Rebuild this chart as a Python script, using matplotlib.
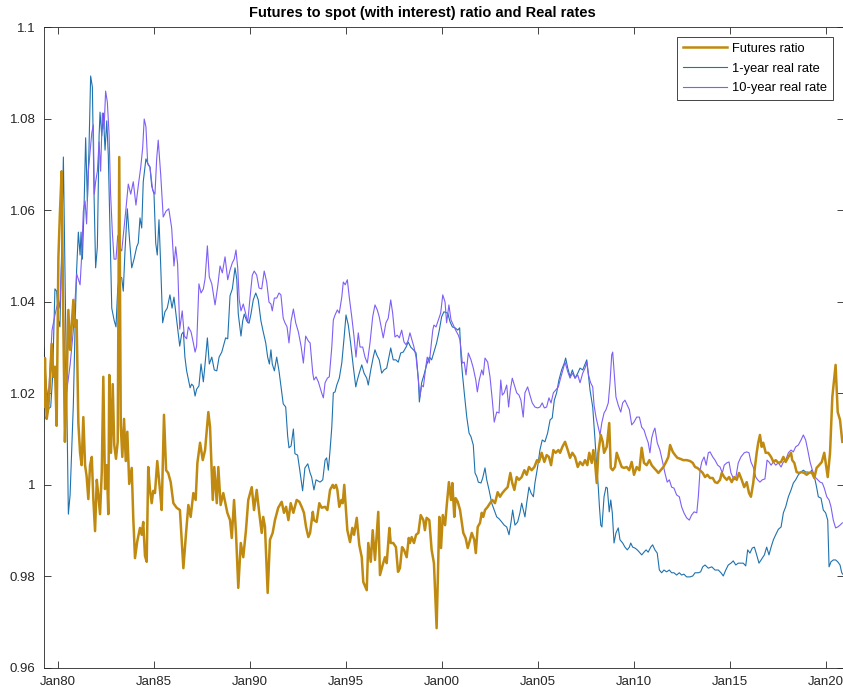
import matplotlib
matplotlib.use("Agg")
import matplotlib.pyplot as plt
from matplotlib.ticker import FixedLocator, FixedFormatter

plt.rcParams['font.family'] = ['Liberation Sans', 'DejaVu Sans']

# Futures-to-spot ratio (with interest), dates in decimal years
futures_t = [
    1979.27, 1979.32, 1979.41, 1979.49, 1979.58, 1979.67, 1979.76, 1979.84, 1979.93, 1980.02,
    1980.10, 1980.19, 1980.28, 1980.36, 1980.45, 1980.54, 1980.63, 1980.71, 1980.80, 1980.89,
    1980.97, 1981.06, 1981.15, 1981.23, 1981.32, 1981.41, 1981.49, 1981.58, 1981.67, 1981.76,
    1981.84, 1981.93, 1982.02, 1982.10, 1982.19, 1982.28, 1982.36, 1982.45, 1982.54, 1982.62,
    1982.67, 1982.76, 1982.85, 1982.93, 1983.02, 1983.11, 1983.19, 1983.27, 1983.35, 1983.44,
    1983.53, 1983.61, 1983.71, 1983.84, 1983.92, 1984.01, 1984.13, 1984.27, 1984.36, 1984.44,
    1984.53, 1984.62, 1984.70, 1984.79, 1984.88, 1984.96, 1985.05, 1985.17, 1985.31, 1985.40,
    1985.52, 1985.63, 1985.74, 1985.87, 1986.01, 1986.18, 1986.35, 1986.53, 1986.67, 1986.79,
    1986.91, 1987.05, 1987.17, 1987.26, 1987.40, 1987.54, 1987.66, 1987.83, 1987.92, 1988.06,
    1988.14, 1988.27, 1988.35, 1988.47, 1988.61, 1988.82, 1988.96, 1989.05, 1989.17, 1989.27,
    1989.39, 1989.52, 1989.65, 1989.79, 1989.91, 1990.09, 1990.21, 1990.35, 1990.48, 1990.61,
    1990.69, 1990.78, 1990.92, 1991.04, 1991.18, 1991.30, 1991.47, 1991.65, 1991.77, 1991.88,
    1992.00, 1992.12, 1992.26, 1992.43, 1992.57, 1992.69, 1992.81, 1992.92, 1993.04, 1993.13,
    1993.27, 1993.33, 1993.47, 1993.61, 1993.73, 1993.91, 1994.03, 1994.17, 1994.31, 1994.38,
    1994.48, 1994.55, 1994.65, 1994.76, 1994.83, 1994.91, 1995.07, 1995.21, 1995.33, 1995.42,
    1995.56, 1995.69, 1995.82, 1995.90, 1996.08, 1996.16, 1996.29, 1996.39, 1996.51, 1996.68,
    1996.77, 1996.91, 1997.03, 1997.12, 1997.26, 1997.33, 1997.46, 1997.60, 1997.71, 1997.81,
    1997.92, 1998.02, 1998.16, 1998.27, 1998.33, 1998.42, 1998.54, 1998.65, 1998.77, 1998.89,
    1999.03, 1999.11, 1999.20, 1999.34, 1999.46, 1999.58, 1999.72, 1999.86, 1999.95, 2000.04,
    2000.16, 2000.24, 2000.36, 2000.47, 2000.54, 2000.64, 2000.71, 2000.82, 2000.94, 2001.11,
    2001.23, 2001.34, 2001.46, 2001.55, 2001.68, 2001.76, 2001.86, 2001.98, 2002.07, 2002.15,
    2002.24, 2002.38, 2002.50, 2002.62, 2002.76, 2002.90, 2003.02, 2003.14, 2003.28, 2003.42,
    2003.56, 2003.66, 2003.77, 2003.89, 2004.01, 2004.15, 2004.29, 2004.41, 2004.53, 2004.67,
    2004.81, 2004.95, 2005.05, 2005.19, 2005.33, 2005.45, 2005.57, 2005.68, 2005.80, 2005.92,
    2006.06, 2006.15, 2006.27, 2006.41, 2006.55, 2006.67, 2006.79, 2006.93, 2007.07, 2007.19,
    2007.33, 2007.45, 2007.57, 2007.67, 2007.80, 2007.88, 2007.97, 2008.06, 2008.14, 2008.27,
    2008.37, 2008.44, 2008.58, 2008.71, 2008.79, 2008.89, 2009.01, 2009.10, 2009.23, 2009.36,
    2009.48, 2009.62, 2009.75, 2009.88, 2010.00, 2010.14, 2010.28, 2010.40, 2010.52, 2010.66,
    2010.80, 2010.92, 2011.04, 2011.15, 2011.27, 2011.39, 2011.53, 2011.67, 2011.79, 2011.88,
    2012.02, 2012.14, 2012.26, 2012.40, 2012.57, 2012.75, 2012.92, 2013.06, 2013.18, 2013.30,
    2013.44, 2013.58, 2013.70, 2013.82, 2013.96, 2014.10, 2014.22, 2014.34, 2014.48, 2014.57,
    2014.70, 2014.83, 2014.95, 2015.09, 2015.22, 2015.35, 2015.47, 2015.61, 2015.74, 2015.87,
    2015.99, 2016.09, 2016.21, 2016.30, 2016.39, 2016.47, 2016.56, 2016.65, 2016.73, 2016.86,
    2016.99, 2017.14, 2017.26, 2017.38, 2017.52, 2017.66, 2017.78, 2017.90, 2018.04, 2018.18,
    2018.24, 2018.35, 2018.47, 2018.59, 2018.73, 2018.87, 2018.99, 2019.11, 2019.25, 2019.39,
    2019.51, 2019.64, 2019.78, 2019.91, 2019.98, 2020.09, 2020.21, 2020.33, 2020.43, 2020.50,
    2020.61, 2020.73, 2020.85,
]
futures_v = [
    1.0170, 1.0277, 1.0144, 1.0166, 1.0220, 1.0308, 1.0236, 1.0258, 1.0129, 1.0496,
    1.0594, 1.0685, 1.0345, 1.0094, 1.0220, 1.0382, 1.0295, 1.0345, 1.0404, 1.0345,
    1.0360, 1.0135, 1.0070, 1.0043, 1.0148, 1.0043, 1.0019, 0.9969, 1.0043, 1.0061,
    0.9969, 0.9899, 1.0011, 0.9978, 0.9936, 1.0028, 1.0236, 0.9991, 1.0043, 0.9936,
    1.0240, 1.0070, 1.0220, 1.0087, 1.0057, 1.0094, 1.0716, 1.0129, 1.0061, 1.0144,
    1.0052, 1.0116, 1.0002, 1.0037, 0.9928, 0.9840, 0.9877, 0.9906, 0.9891, 0.9919,
    0.9845, 0.9832, 1.0039, 0.9989, 0.9960, 0.9987, 0.9982, 1.0052, 0.9989, 0.9945,
    1.0153, 1.0032, 1.0026, 1.0006, 0.9960, 0.9950, 0.9945, 0.9818, 0.9895, 0.9956,
    0.9930, 0.9982, 0.9967, 1.0048, 1.0092, 1.0054, 1.0076, 1.0159, 1.0126, 0.9967,
    1.0039, 0.9960, 1.0039, 0.9956, 0.9982, 0.9939, 0.9923, 0.9884, 0.9967, 0.9895,
    0.9775, 0.9873, 0.9842, 0.9901, 0.9967, 0.9995, 0.9945, 0.9989, 0.9939, 0.9895,
    0.9930, 0.9908, 0.9764, 0.9880, 0.9895, 0.9923, 0.9950, 0.9963, 0.9939, 0.9952,
    0.9923, 0.9960, 0.9939, 0.9967, 0.9963, 0.9952, 0.9939, 0.9908, 0.9886, 0.9895,
    0.9941, 0.9923, 0.9919, 0.9960, 0.9950, 0.9952, 0.9945, 0.9989, 1.0000, 0.9993,
    1.0000, 0.9989, 0.9952, 0.9967, 0.9960, 1.0000, 0.9901, 0.9875, 0.9906, 0.9891,
    0.9928, 0.9869, 0.9842, 0.9788, 0.9770, 0.9873, 0.9832, 0.9901, 0.9836, 0.9941,
    0.9803, 0.9825, 0.9842, 0.9829, 0.9906, 0.9873, 0.9873, 0.9864, 0.9810, 0.9818,
    0.9864, 0.9858, 0.9842, 0.9884, 0.9873, 0.9886, 0.9873, 0.9891, 0.9895, 0.9934,
    0.9923, 0.9901, 0.9928, 0.9923, 0.9858, 0.9829, 0.9687, 0.9930, 0.9862, 0.9934,
    0.9912, 0.9952, 1.0006, 0.9967, 1.0004, 0.9930, 0.9971, 0.9963, 0.9945, 0.9895,
    0.9884, 0.9862, 0.9880, 0.9895, 0.9880, 0.9851, 0.9908, 0.9917, 0.9939, 0.9930,
    0.9945, 0.9952, 0.9960, 0.9967, 0.9960, 0.9984, 0.9974, 0.9982, 0.9989, 0.9995,
    1.0026, 1.0004, 0.9989, 1.0017, 1.0011, 1.0017, 1.0032, 1.0022, 1.0039, 1.0032,
    1.0039, 1.0054, 1.0050, 1.0070, 1.0050, 1.0065, 1.0061, 1.0043, 1.0076, 1.0070,
    1.0076, 1.0070, 1.0083, 1.0094, 1.0076, 1.0059, 1.0070, 1.0061, 1.0039, 1.0050,
    1.0043, 1.0054, 1.0043, 1.0070, 1.0048, 1.0076, 1.0050, 1.0004, 1.0070, 1.0109,
    1.0094, 1.0070, 1.0083, 1.0135, 1.0037, 1.0032, 1.0039, 1.0070, 1.0054, 1.0039,
    1.0037, 1.0039, 1.0032, 1.0050, 1.0022, 1.0039, 1.0032, 1.0081, 1.0048, 1.0043,
    1.0054, 1.0043, 1.0037, 1.0032, 1.0026, 1.0032, 1.0039, 1.0050, 1.0061, 1.0087,
    1.0072, 1.0065, 1.0059, 1.0057, 1.0054, 1.0054, 1.0052, 1.0048, 1.0039, 1.0037,
    1.0032, 1.0026, 1.0017, 1.0022, 1.0015, 1.0015, 1.0006, 1.0004, 1.0011, 1.0026,
    1.0017, 1.0011, 1.0017, 1.0006, 1.0017, 1.0011, 1.0026, 1.0011, 0.9995, 1.0006,
    0.9982, 0.9974, 1.0004, 1.0039, 1.0070, 1.0092, 1.0109, 1.0083, 1.0092, 1.0070,
    1.0070, 1.0061, 1.0050, 1.0054, 1.0048, 1.0050, 1.0061, 1.0050, 1.0061, 1.0070,
    1.0054, 1.0048, 1.0028, 1.0026, 1.0028, 1.0026, 1.0022, 1.0026, 1.0028, 1.0015,
    1.0037, 1.0043, 1.0050, 1.0070, 1.0050, 1.0017, 1.0070, 1.0192, 1.0233, 1.0262,
    1.0159, 1.0142, 1.0094,
]

# 1-year real rate (scaled)
rate1_t = [
    1979.27, 1979.38, 1979.49, 1979.62, 1979.72, 1979.84, 1979.93, 1980.02, 1980.10, 1980.19,
    1980.28, 1980.54, 1980.63, 1980.80, 1980.89, 1980.97, 1981.06, 1981.15, 1981.20, 1981.27,
    1981.35, 1981.44, 1981.53, 1981.61, 1981.70, 1981.79, 1981.88, 1981.96, 1982.05, 1982.14,
    1982.19, 1982.28, 1982.36, 1982.45, 1982.54, 1982.62, 1982.71, 1982.80, 1982.92, 1983.02,
    1983.11, 1983.19, 1983.32, 1983.40, 1983.49, 1983.61, 1983.71, 1983.84, 1983.96, 1984.10,
    1984.18, 1984.27, 1984.36, 1984.44, 1984.58, 1984.70, 1984.79, 1984.88, 1985.00, 1985.09,
    1985.17, 1985.26, 1985.35, 1985.45, 1985.57, 1985.69, 1985.83, 1985.94, 1986.04, 1986.18,
    1986.34, 1986.44, 1986.53, 1986.61, 1986.70, 1986.79, 1986.88, 1986.96, 1987.05, 1987.14,
    1987.22, 1987.34, 1987.45, 1987.57, 1987.66, 1987.78, 1987.88, 1988.01, 1988.14, 1988.27,
    1988.39, 1988.53, 1988.73, 1988.84, 1988.96, 1989.08, 1989.22, 1989.31, 1989.39, 1989.53,
    1989.62, 1989.70, 1989.83, 1989.95, 1990.05, 1990.17, 1990.30, 1990.43, 1990.57, 1990.69,
    1990.82, 1990.92, 1991.01, 1991.09, 1991.16, 1991.27, 1991.39, 1991.51, 1991.61, 1991.73,
    1991.86, 1991.96, 1992.03, 1992.14, 1992.26, 1992.34, 1992.48, 1992.60, 1992.74, 1992.86,
    1993.01, 1993.13, 1993.21, 1993.33, 1993.44, 1993.65, 1993.79, 1993.91, 1993.99, 1994.08,
    1994.17, 1994.26, 1994.34, 1994.43, 1994.52, 1994.65, 1994.78, 1994.90, 1995.00, 1995.12,
    1995.24, 1995.38, 1995.51, 1995.59, 1995.69, 1995.82, 1995.94, 1996.08, 1996.16, 1996.29,
    1996.42, 1996.51, 1996.60, 1996.73, 1996.86, 1996.98, 1997.12, 1997.33, 1997.46, 1997.60,
    1997.72, 1997.85, 1997.98, 1998.13, 1998.24, 1998.37, 1998.51, 1998.65, 1998.77, 1998.82,
    1998.94, 1999.06, 1999.20, 1999.34, 1999.46, 1999.58, 1999.72, 1999.86, 1999.98, 2000.10,
    2000.30, 2000.42, 2000.54, 2000.68, 2000.82, 2000.92, 2000.99, 2001.06, 2001.16, 2001.29,
    2001.41, 2001.51, 2001.63, 2001.72, 2001.82, 2001.89, 2002.03, 2002.12, 2002.24, 2002.33,
    2002.45, 2002.59, 2002.72, 2002.85, 2002.97, 2003.11, 2003.24, 2003.37, 2003.49, 2003.59,
    2003.68, 2003.80, 2003.94, 2004.06, 2004.15, 2004.32, 2004.41, 2004.53, 2004.64, 2004.76,
    2004.84, 2004.98, 2005.10, 2005.22, 2005.36, 2005.50, 2005.63, 2005.74, 2005.85, 2005.97,
    2006.09, 2006.23, 2006.37, 2006.44, 2006.55, 2006.67, 2006.79, 2006.93, 2007.07, 2007.19,
    2007.33, 2007.54, 2007.71, 2007.85, 2007.97, 2008.06, 2008.14, 2008.20, 2008.27, 2008.33,
    2008.44, 2008.54, 2008.61, 2008.71, 2008.79, 2008.87, 2008.96, 2009.06, 2009.18, 2009.27,
    2009.41, 2009.53, 2009.65, 2009.76, 2009.83, 2009.93, 2010.05, 2010.17, 2010.28, 2010.40,
    2010.52, 2010.63, 2010.74, 2010.87, 2010.97, 2011.09, 2011.21, 2011.32, 2011.44, 2011.56,
    2011.70, 2011.84, 2011.96, 2012.08, 2012.22, 2012.36, 2012.48, 2012.60, 2012.74, 2012.92,
    2013.06, 2013.18, 2013.35, 2013.47, 2013.58, 2013.70, 2013.87, 2014.05, 2014.22, 2014.39,
    2014.53, 2014.65, 2014.78, 2014.91, 2015.05, 2015.17, 2015.30, 2015.43, 2015.57, 2015.69,
    2015.82, 2015.92, 2016.04, 2016.16, 2016.27, 2016.39, 2016.51, 2016.65, 2016.79, 2016.91,
    2017.03, 2017.14, 2017.26, 2017.38, 2017.52, 2017.66, 2017.78, 2017.90, 2018.04, 2018.18,
    2018.30, 2018.42, 2018.56, 2018.70, 2018.82, 2018.94, 2019.05, 2019.17, 2019.25, 2019.43,
    2019.51, 2019.60, 2019.74, 2019.86, 2019.98, 2020.09, 2020.16, 2020.26, 2020.38, 2020.50,
    2020.61, 2020.73, 2020.82, 2020.87,
]
rate1_v = [
    1.0299, 1.0220, 1.0166, 1.0170, 1.0236, 1.0428, 1.0423, 1.0360, 1.0345, 1.0511,
    1.0716, 0.9936, 0.9978, 1.0177, 1.0345, 1.0469, 1.0552, 1.0502, 1.0552, 1.0493,
    1.0594, 1.0758, 1.0620, 1.0727, 1.0893, 1.0869, 1.0629, 1.0474, 1.0520, 1.0762,
    1.0814, 1.0762, 1.0812, 1.0731, 1.0795, 1.0720, 1.0552, 1.0386, 1.0360, 1.0345,
    1.0428, 1.0456, 1.0452, 1.0423, 1.0511, 1.0603, 1.0544, 1.0474, 1.0493, 1.0520,
    1.0528, 1.0583, 1.0561, 1.0662, 1.0712, 1.0699, 1.0694, 1.0653, 1.0635, 1.0528,
    1.0502, 1.0579, 1.0478, 1.0354, 1.0378, 1.0386, 1.0415, 1.0386, 1.0410, 1.0360,
    1.0303, 1.0329, 1.0334, 1.0279, 1.0249, 1.0231, 1.0212, 1.0220, 1.0216, 1.0194,
    1.0209, 1.0216, 1.0264, 1.0225, 1.0264, 1.0321, 1.0264, 1.0279, 1.0251, 1.0249,
    1.0279, 1.0290, 1.0321, 1.0319, 1.0413, 1.0428, 1.0474, 1.0450, 1.0373, 1.0325,
    1.0358, 1.0373, 1.0358, 1.0353, 1.0373, 1.0404, 1.0419, 1.0404, 1.0358, 1.0334,
    1.0310, 1.0279, 1.0264, 1.0295, 1.0264, 1.0249, 1.0279, 1.0249, 1.0216, 1.0177,
    1.0170, 1.0107, 1.0081, 1.0085, 1.0122, 1.0068, 1.0065, 1.0030, 0.9987, 1.0037,
    1.0046, 1.0026, 1.0017, 0.9989, 1.0011, 1.0006, 1.0011, 1.0054, 1.0059, 1.0032,
    1.0076, 1.0126, 1.0201, 1.0203, 1.0218, 1.0233, 1.0266, 1.0321, 1.0371, 1.0349,
    1.0310, 1.0258, 1.0214, 1.0229, 1.0244, 1.0262, 1.0244, 1.0233, 1.0218, 1.0251,
    1.0279, 1.0295, 1.0284, 1.0273, 1.0244, 1.0251, 1.0255, 1.0299, 1.0273, 1.0273,
    1.0268, 1.0288, 1.0290, 1.0301, 1.0312, 1.0301, 1.0295, 1.0288, 1.0229, 1.0181,
    1.0223, 1.0240, 1.0262, 1.0279, 1.0273, 1.0290, 1.0310, 1.0338, 1.0367, 1.0378,
    1.0375, 1.0356, 1.0345, 1.0343, 1.0338, 1.0343, 1.0279, 1.0244, 1.0201, 1.0148,
    1.0113, 1.0105, 1.0087, 1.0026, 1.0017, 1.0006, 1.0004, 1.0015, 1.0037, 1.0011,
    0.9989, 0.9960, 0.9945, 0.9930, 0.9926, 0.9919, 0.9912, 0.9908, 0.9891, 0.9917,
    0.9945, 0.9912, 0.9919, 0.9939, 0.9960, 0.9930, 0.9960, 0.9995, 0.9982, 0.9974,
    1.0004, 1.0039, 1.0076, 1.0098, 1.0094, 1.0113, 1.0142, 1.0146, 1.0185, 1.0201,
    1.0229, 1.0251, 1.0266, 1.0277, 1.0255, 1.0236, 1.0251, 1.0233, 1.0244, 1.0255,
    1.0251, 1.0273, 1.0207, 1.0170, 1.0098, 1.0039, 0.9995, 0.9952, 0.9912, 0.9908,
    0.9974, 0.9995, 0.9993, 0.9941, 0.9967, 0.9939, 0.9873, 0.9895, 0.9906, 0.9880,
    0.9873, 0.9864, 0.9858, 0.9864, 0.9873, 0.9864, 0.9862, 0.9858, 0.9853, 0.9847,
    0.9853, 0.9858, 0.9853, 0.9864, 0.9869, 0.9858, 0.9851, 0.9814, 0.9808, 0.9814,
    0.9810, 0.9814, 0.9808, 0.9808, 0.9803, 0.9808, 0.9803, 0.9805, 0.9799, 0.9799,
    0.9801, 0.9808, 0.9808, 0.9810, 0.9821, 0.9825, 0.9818, 0.9821, 0.9814, 0.9814,
    0.9808, 0.9801, 0.9814, 0.9825, 0.9829, 0.9834, 0.9825, 0.9829, 0.9829, 0.9829,
    0.9823, 0.9858, 0.9851, 0.9862, 0.9864, 0.9847, 0.9829, 0.9838, 0.9847, 0.9864,
    0.9847, 0.9864, 0.9880, 0.9891, 0.9903, 0.9908, 0.9939, 0.9952, 0.9974, 0.9989,
    1.0004, 1.0011, 1.0022, 1.0028, 1.0032, 1.0028, 1.0028, 1.0026, 1.0032, 1.0011,
    0.9995, 0.9974, 0.9971, 0.9945, 0.9939, 0.9923, 0.9821, 0.9832, 0.9836, 0.9836,
    0.9832, 0.9825, 0.9808, 0.9805,
]

# 10-year real rate (scaled)
rate10_t = [
    1979.27, 1979.49, 1979.69, 1979.84, 1980.02, 1980.10, 1980.21, 1980.31, 1980.45, 1980.63,
    1980.80, 1980.97, 1981.15, 1981.23, 1981.32, 1981.41, 1981.49, 1981.58, 1981.67, 1981.76,
    1981.84, 1981.89, 1981.96, 1982.05, 1982.14, 1982.22, 1982.31, 1982.40, 1982.48, 1982.57,
    1982.66, 1982.74, 1982.83, 1982.92, 1983.02, 1983.11, 1983.19, 1983.32, 1983.40, 1983.54,
    1983.66, 1983.79, 1983.92, 1984.06, 1984.18, 1984.31, 1984.41, 1984.49, 1984.58, 1984.67,
    1984.79, 1984.93, 1985.05, 1985.14, 1985.22, 1985.35, 1985.48, 1985.63, 1985.77, 1985.92,
    1986.04, 1986.13, 1986.23, 1986.34, 1986.47, 1986.58, 1986.70, 1986.79, 1986.93, 1987.05,
    1987.14, 1987.22, 1987.34, 1987.45, 1987.57, 1987.66, 1987.78, 1987.88, 1988.01, 1988.18,
    1988.32, 1988.44, 1988.56, 1988.70, 1988.84, 1988.96, 1989.08, 1989.18, 1989.27, 1989.36,
    1989.44, 1989.53, 1989.65, 1989.78, 1989.88, 1990.00, 1990.12, 1990.22, 1990.35, 1990.47,
    1990.61, 1990.74, 1990.87, 1990.99, 1991.09, 1991.16, 1991.27, 1991.39, 1991.51, 1991.61,
    1991.73, 1991.82, 1991.93, 1992.03, 1992.14, 1992.26, 1992.38, 1992.52, 1992.66, 1992.78,
    1992.90, 1993.04, 1993.13, 1993.27, 1993.33, 1993.44, 1993.56, 1993.73, 1993.82, 1993.91,
    1994.03, 1994.13, 1994.26, 1994.34, 1994.43, 1994.55, 1994.65, 1994.78, 1994.86, 1994.96,
    1995.07, 1995.17, 1995.30, 1995.42, 1995.52, 1995.64, 1995.73, 1995.87, 1995.99, 1996.11,
    1996.25, 1996.39, 1996.51, 1996.63, 1996.73, 1996.94, 1997.08, 1997.20, 1997.33, 1997.43,
    1997.55, 1997.67, 1997.78, 1997.90, 1998.02, 1998.13, 1998.24, 1998.33, 1998.54, 1998.65,
    1998.77, 1998.85, 1998.94, 1999.03, 1999.17, 1999.23, 1999.34, 1999.41, 1999.52, 1999.58,
    1999.69, 1999.81, 1999.93, 2000.04, 2000.16, 2000.24, 2000.36, 2000.47, 2000.71, 2000.85,
    2000.94, 2001.06, 2001.16, 2001.25, 2001.37, 2001.51, 2001.63, 2001.76, 2001.84, 2001.94,
    2002.07, 2002.15, 2002.24, 2002.38, 2002.50, 2002.62, 2002.72, 2002.85, 2002.97, 2003.06,
    2003.14, 2003.24, 2003.37, 2003.47, 2003.56, 2003.66, 2003.77, 2003.89, 2004.01, 2004.11,
    2004.23, 2004.32, 2004.46, 2004.58, 2004.70, 2004.84, 2004.98, 2005.10, 2005.22, 2005.33,
    2005.45, 2005.57, 2005.68, 2005.80, 2006.06, 2006.15, 2006.27, 2006.41, 2006.55, 2006.67,
    2006.79, 2006.93, 2007.07, 2007.19, 2007.33, 2007.45, 2007.54, 2007.63, 2007.74, 2007.85,
    2007.92, 2008.02, 2008.14, 2008.23, 2008.32, 2008.44, 2008.54, 2008.66, 2008.75, 2008.84,
    2008.89, 2008.97, 2009.06, 2009.18, 2009.31, 2009.41, 2009.53, 2009.65, 2009.76, 2009.88,
    2010.00, 2010.14, 2010.28, 2010.40, 2010.52, 2010.63, 2010.74, 2010.83, 2010.92, 2011.01,
    2011.09, 2011.21, 2011.35, 2011.49, 2011.61, 2011.73, 2011.84, 2011.96, 2012.08, 2012.22,
    2012.36, 2012.48, 2012.60, 2012.74, 2012.88, 2013.00, 2013.13, 2013.27, 2013.35, 2013.44,
    2013.53, 2013.65, 2013.76, 2013.87, 2013.96, 2014.10, 2014.22, 2014.36, 2014.48, 2014.60,
    2014.70, 2014.83, 2014.95, 2015.05, 2015.21, 2015.30, 2015.43, 2015.57, 2015.74, 2015.87,
    2015.99, 2016.09, 2016.21, 2016.34, 2016.44, 2016.56, 2016.68, 2016.82, 2016.93, 2017.03,
    2017.14, 2017.26, 2017.38, 2017.52, 2017.66, 2017.78, 2017.90, 2018.04, 2018.18, 2018.30,
    2018.42, 2018.56, 2018.70, 2018.82, 2018.94, 2019.05, 2019.17, 2019.29, 2019.43, 2019.57,
    2019.69, 2019.81, 2019.91, 2020.04, 2020.16, 2020.26, 2020.38, 2020.50, 2020.61, 2020.73,
    2020.85,
]
rate10_v = [
    1.0251, 1.0185, 1.0338, 1.0371, 1.0404, 1.0386, 1.0513, 1.0338, 1.0203, 1.0262,
    1.0338, 1.0461, 1.0437, 1.0498, 1.0598, 1.0620, 1.0570, 1.0685, 1.0727, 1.0769,
    1.0786, 1.0635, 1.0662, 1.0685, 1.0749, 1.0685, 1.0812, 1.0777, 1.0860, 1.0836,
    1.0766, 1.0635, 1.0552, 1.0493, 1.0493, 1.0544, 1.0520, 1.0511, 1.0544, 1.0603,
    1.0657, 1.0635, 1.0662, 1.0611, 1.0653, 1.0694, 1.0736, 1.0799, 1.0782, 1.0703,
    1.0694, 1.0644, 1.0635, 1.0712, 1.0753, 1.0677, 1.0585, 1.0598, 1.0603, 1.0561,
    1.0478, 1.0520, 1.0482, 1.0340, 1.0380, 1.0325, 1.0319, 1.0345, 1.0334, 1.0310,
    1.0290, 1.0303, 1.0439, 1.0419, 1.0428, 1.0450, 1.0522, 1.0454, 1.0439, 1.0393,
    1.0434, 1.0478, 1.0463, 1.0498, 1.0448, 1.0469, 1.0485, 1.0493, 1.0513, 1.0474,
    1.0404, 1.0380, 1.0395, 1.0373, 1.0354, 1.0408, 1.0458, 1.0467, 1.0458, 1.0430,
    1.0428, 1.0467, 1.0443, 1.0399, 1.0395, 1.0380, 1.0408, 1.0408, 1.0419, 1.0415,
    1.0364, 1.0354, 1.0345, 1.0310, 1.0358, 1.0384, 1.0354, 1.0334, 1.0303, 1.0266,
    1.0325, 1.0314, 1.0310, 1.0244, 1.0229, 1.0236, 1.0225, 1.0201, 1.0190, 1.0223,
    1.0233, 1.0236, 1.0301, 1.0360, 1.0371, 1.0382, 1.0375, 1.0410, 1.0443, 1.0437,
    1.0448, 1.0410, 1.0367, 1.0323, 1.0279, 1.0332, 1.0301, 1.0301, 1.0279, 1.0266,
    1.0310, 1.0367, 1.0393, 1.0382, 1.0367, 1.0321, 1.0354, 1.0364, 1.0404, 1.0375,
    1.0323, 1.0327, 1.0321, 1.0338, 1.0312, 1.0306, 1.0316, 1.0332, 1.0301, 1.0279,
    1.0229, 1.0192, 1.0218, 1.0214, 1.0262, 1.0279, 1.0266, 1.0295, 1.0338, 1.0349,
    1.0345, 1.0360, 1.0375, 1.0415, 1.0399, 1.0354, 1.0393, 1.0360, 1.0338, 1.0327,
    1.0316, 1.0266, 1.0268, 1.0240, 1.0288, 1.0273, 1.0255, 1.0229, 1.0203, 1.0229,
    1.0251, 1.0240, 1.0277, 1.0268, 1.0236, 1.0185, 1.0137, 1.0159, 1.0157, 1.0229,
    1.0196, 1.0201, 1.0218, 1.0170, 1.0207, 1.0233, 1.0218, 1.0201, 1.0196, 1.0185,
    1.0148, 1.0201, 1.0214, 1.0196, 1.0179, 1.0170, 1.0168, 1.0170, 1.0179, 1.0168,
    1.0170, 1.0190, 1.0179, 1.0201, 1.0214, 1.0229, 1.0247, 1.0268, 1.0247, 1.0233,
    1.0244, 1.0233, 1.0240, 1.0223, 1.0244, 1.0255, 1.0268, 1.0240, 1.0223, 1.0214,
    1.0174, 1.0148, 1.0126, 1.0109, 1.0135, 1.0157, 1.0164, 1.0179, 1.0223, 1.0284,
    1.0290, 1.0244, 1.0192, 1.0174, 1.0159, 1.0179, 1.0185, 1.0174, 1.0164, 1.0131,
    1.0137, 1.0148, 1.0148, 1.0126, 1.0120, 1.0105, 1.0092, 1.0070, 1.0102, 1.0116,
    1.0124, 1.0092, 1.0076, 1.0050, 1.0026, 1.0006, 1.0011, 0.9995, 0.9993, 0.9978,
    0.9974, 0.9952, 0.9939, 0.9928, 0.9923, 0.9934, 0.9941, 0.9939, 0.9974, 1.0032,
    1.0050, 1.0061, 1.0043, 1.0070, 1.0072, 1.0061, 1.0054, 1.0043, 1.0039, 1.0026,
    1.0043, 1.0048, 1.0050, 1.0026, 1.0011, 1.0015, 1.0048, 1.0061, 1.0070, 1.0072,
    1.0070, 1.0050, 1.0039, 1.0017, 1.0011, 1.0006, 1.0011, 1.0013, 1.0054, 1.0050,
    1.0043, 1.0050, 1.0043, 1.0048, 1.0039, 1.0050, 1.0054, 1.0070, 1.0076, 1.0072,
    1.0083, 1.0087, 1.0098, 1.0109, 1.0098, 1.0076, 1.0050, 1.0032, 1.0017, 1.0011,
    1.0006, 1.0004, 0.9993, 0.9974, 0.9967, 0.9952, 0.9923, 0.9906, 0.9908, 0.9912,
    0.9917,
]

year_ticks = [1980, 1985, 1990, 1995, 2000, 2005, 2010, 2015, 2020]
year_labels = ['Jan80', 'Jan85', 'Jan90', 'Jan95', 'Jan00', 'Jan05', 'Jan10', 'Jan15', 'Jan20']
value_ticks = [0.96, 0.98, 1.00, 1.02, 1.04, 1.06, 1.08, 1.10]
value_labels = ['0.96', '0.98', '1', '1.02', '1.04', '1.06', '1.08', '1.1']

W, H = 843, 692
fig = plt.figure(figsize=(W / 100, H / 100), dpi=100)
ax = fig.add_axes([44 / W, 1 - 668 / H, 800 / W, 641 / H])

ax.plot(futures_t, futures_v, color='#BF8A0F', lw=1.8, label='Futures ratio', zorder=3)
ax.plot(rate1_t, rate1_v, color='#1F72AE', lw=0.8, label='1-year real rate', zorder=2)
ax.plot(rate10_t, rate10_v, color='#7F5FF6', lw=0.8, label='10-year real rate', zorder=2)

ax.set_xlim(1979.271, 2020.9375)
ax.set_ylim(0.96, 1.10)
ax.xaxis.set_major_locator(FixedLocator(year_ticks))
ax.xaxis.set_major_formatter(FixedFormatter(year_labels))
ax.yaxis.set_major_locator(FixedLocator(value_ticks))
ax.yaxis.set_major_formatter(FixedFormatter(value_labels))

axis_col = '#262626'
for sp in ax.spines.values():
    sp.set_color(axis_col)
    sp.set_linewidth(0.6)
ax.tick_params(axis='both', which='major', direction='in', length=5, width=0.6,
               color=axis_col, labelcolor=axis_col, labelsize=9.5,
               top=True, right=True)
ax.tick_params(axis='x', pad=5.5)
ax.tick_params(axis='y', pad=6)

ax.set_title('Futures to spot (with interest) ratio and Real rates',
             fontsize=10.5, fontweight='bold', color='black',
             x=(422 - 44) / 800, pad=7)

leg = ax.legend(loc='upper right', bbox_to_anchor=(833 / W, 1 - 37 / H),
                bbox_transform=fig.transFigure, fontsize=9.3, frameon=True,
                fancybox=False, framealpha=1, edgecolor=axis_col,
                handlelength=3.4, handletextpad=0.4, labelspacing=0.6,
                borderpad=0.45, borderaxespad=0)
leg.get_frame().set_linewidth(0.6)

fig.savefig('out.png', dpi=100)
